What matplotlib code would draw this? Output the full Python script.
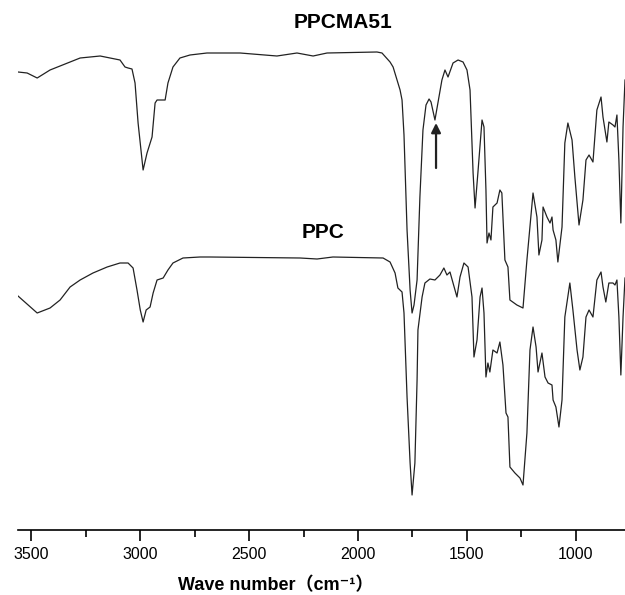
import numpy as np
import matplotlib
matplotlib.use("Agg")
import matplotlib.pyplot as plt

# FTIR spectra (wavenumber in cm-1, transmittance in a.u.)
wn_ppcma = [3560, 3518, 3472, 3413, 3321, 3275, 3183, 3092, 3069, 3055, 3037, 3023, 3009,
            2986, 2968, 2945, 2931, 2922, 2885, 2872, 2849, 2817, 2771, 2693, 2679, 2541,
            2372, 2280, 2206, 2142, 1913, 1890, 1853, 1839, 1807, 1798, 1789, 1775, 1761,
            1752, 1743, 1729, 1716, 1702, 1688, 1674, 1665, 1647, 1615, 1601, 1587, 1564,
            1541, 1518, 1500, 1486, 1472, 1463, 1450, 1431, 1422, 1413, 1408, 1399, 1390,
            1381, 1362, 1349, 1340, 1326, 1312, 1303, 1271, 1243, 1225, 1197, 1179, 1170,
            1156, 1151, 1133, 1119, 1110, 1105, 1092, 1083, 1064, 1051, 1037, 1018, 1005,
            986, 968, 954, 940, 922, 904, 885, 876, 858, 849, 830, 821, 812, 803, 794, 784, 775]
t_ppcma = [458, 457, 452, 460, 468, 472, 474, 470, 463, 462, 461, 447, 407,
           360, 377, 393, 427, 430, 430, 447, 463, 472, 475, 477, 477, 477,
           474, 477, 474, 477, 478, 477, 468, 463, 440, 430, 395, 300, 240,
           217, 225, 250, 333, 400, 425, 431, 428, 410, 450, 460, 453, 467,
           470, 468, 460, 440, 357, 322, 357, 410, 403, 340, 287, 297, 290,
           323, 327, 340, 337, 270, 263, 230, 225, 222, 270, 337, 313, 275,
           290, 323, 313, 307, 313, 300, 290, 268, 303, 387, 407, 390, 353,
           305, 330, 370, 375, 368, 420, 433, 413, 388, 408, 405, 403, 415, 370, 307, 403, 450]

wn_ppc = [3560, 3472, 3413, 3367, 3321, 3275, 3216, 3151, 3092, 3055, 3032, 3014, 2999,
          2986, 2972, 2954, 2940, 2922, 2894, 2872, 2849, 2803, 2725, 2679, 2266, 2188,
          2115, 1885, 1853, 1830, 1817, 1798, 1789, 1775, 1761, 1752, 1739, 1729, 1725,
          1706, 1693, 1670, 1647, 1624, 1606, 1592, 1578, 1564, 1546, 1532, 1514, 1495,
          1477, 1468, 1454, 1440, 1431, 1422, 1413, 1404, 1395, 1381, 1362, 1349, 1335,
          1321, 1312, 1303, 1280, 1257, 1243, 1225, 1211, 1197, 1183, 1174, 1156, 1142,
          1128, 1110, 1105, 1092, 1078, 1064, 1051, 1028, 1014, 995, 982, 968, 954, 940,
          922, 904, 885, 876, 863, 849, 830, 821, 812, 803, 794, 784, 775]
t_ppc = [234, 217, 222, 230, 243, 250, 257, 263, 267, 267, 262, 240, 220,
         208, 220, 223, 237, 250, 252, 260, 267, 272, 273, 273, 272, 271,
         273, 272, 268, 257, 242, 238, 217, 133, 67, 35, 67, 150, 200,
         233, 247, 251, 250, 255, 262, 255, 258, 247, 233, 253, 267, 263,
         233, 173, 190, 233, 242, 217, 153, 167, 158, 180, 177, 188, 165,
         117, 113, 63, 57, 52, 45, 97, 180, 203, 183, 158, 177, 153,
         147, 145, 130, 123, 103, 130, 213, 247, 220, 180, 160, 173, 213, 220,
         213, 250, 258, 243, 228, 247, 247, 245, 250, 213, 155, 213, 252]

xticks_major = [3500, 3000, 2500, 2000, 1500, 1000]
xticks_minor = [3250, 2750, 2250, 1750, 1250]

plt.rcParams["font.family"] = ["Liberation Sans", "DejaVu Sans", "Noto Sans CJK SC"]

fig = plt.figure(figsize=(6.25, 5.95), dpi=100)
ax = fig.add_axes([18 / 625, 1 - 530 / 595, 1 - 18 / 625, 530 / 595])

ax.plot(wn_ppcma, t_ppcma, color="#222222", lw=0.9)
ax.plot(wn_ppc, t_ppc, color="#222222", lw=0.9)

ax.set_xlim(3560, 775)
ax.set_ylim(0, 530)

for s in ["top", "right", "left"]:
    ax.spines[s].set_visible(False)
ax.spines["bottom"].set_linewidth(1.2)
ax.set_yticks([])
ax.set_xticks(xticks_major)
ax.set_xticks(xticks_minor, minor=True)
ax.tick_params(axis="x", which="major", direction="out", length=8, width=1.2,
               labelsize=11.5, pad=4)
ax.tick_params(axis="x", which="minor", direction="out", length=5, width=1.2)

ax.text(2070, 507, "PPCMA51", fontsize=15, fontweight="bold", ha="center", va="center")
ax.text(2160, 298, "PPC", fontsize=15, fontweight="bold", ha="center", va="center")

# arrow marking the new band in PPCMA51
ax.annotate("", xy=(1642, 407), xytext=(1642, 362),
            arrowprops=dict(arrowstyle="-|>", color="#222222", lw=1.6,
                            mutation_scale=14, shrinkA=0, shrinkB=0))

fig.text(276 / 625, 1 - 586 / 595, "Wave number（cm⁻¹）", fontsize=13, fontweight="bold",
         ha="center", va="center")

fig.savefig("out.png", dpi=100)
